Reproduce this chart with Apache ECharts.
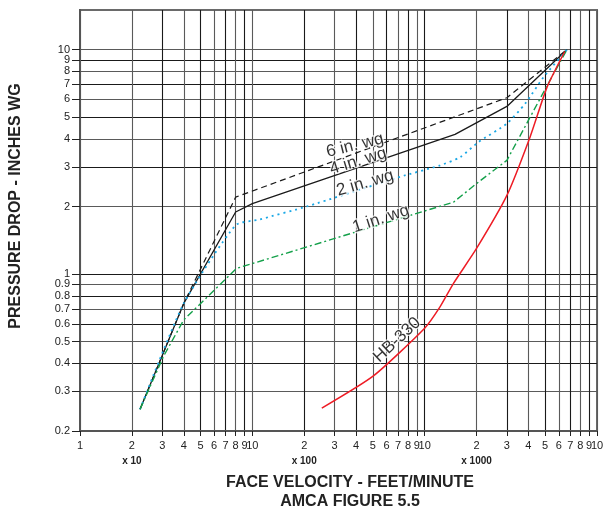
<!DOCTYPE html>
<html><head><meta charset="utf-8">
<script src="https://cdn.jsdelivr.net/npm/echarts@6/dist/echarts.min.js"></script>
<style>html,body{margin:0;padding:0;background:#fff}#c{width:607px;height:515px}</style>
</head><body><div id="c"></div>
<script>
// Tick values (log axes)
const xTicks = [10,20,30,40,50,60,70,80,90,100,200,300,400,500,600,700,800,900,1000,2000,3000,4000,5000,6000,7000,8000,9000,10000];
const yTicks = [0.2,0.3,0.4,0.5,0.6,0.7,0.8,0.9,1,2,3,4,5,6,7,8,9,10];
const xDecadeNotes = {20:'x 10', 200:'x 100', 2000:'x 1000'};

// Series data [face velocity ft/min, pressure drop in. wg]
const in6 = [[22.3,0.25],[40,0.74],[80,2.2],[3000,6.1],[6700,10]];
const in4 = [[22.3,0.25],[40,0.74],[80,1.89],[100,2.06],[1500,4.19],[3000,5.58],[6700,10]];
const in2 = [[22.3,0.25],[40,0.74],[80,1.65],[110,1.75],[207,2.0],[720,2.71],[1230,3.05],[1610,3.32],[2050,3.87],[3000,4.68],[3830,5.74],[4890,7.53],[6700,10]];
const in1 = [[22.3,0.25],[30.5,0.43],[40,0.625],[81,1.06],[1470,2.09],[2000,2.53],[3000,3.21],[5130,6.9],[6700,10]];
const hb330 = [[253,0.253],[504,0.352],[1000,0.574],[1230,0.716],[1470,0.909],[2000,1.30],[3000,2.24],[4090,4.08],[5130,6.8],[6500,9.8]];

// Curve labels anchored in data units
const labelNames = ['6 in. wg','4 in. wg','2 in. wg','1 in. wg','HB-330'];
const labelX = [394, 411, 451, 558, 692];
const labelY = [3.74, 3.18, 2.54, 1.76, 0.509];

const labelRot = [14, 17, 16, 18, 43];
const labelData = labelNames.map((n,i)=>({
  value:[labelX[i], labelY[i]], name:n,
  label:{rotate:labelRot[i]}
}));

const FONT = '"Liberation Sans", Arial, Helvetica, sans-serif';
const chart = echarts.init(document.getElementById('c'), null, {renderer:'canvas'});

function xFmt(v){
  const e = Math.floor(Math.log10(v) + 1e-9);
  const m = Math.round(v / Math.pow(10, e));
  let s;
  if (Math.abs(v - 10) < 1e-6) s = '1';
  else if (m === 1 || m === 10) s = '10';
  else s = String(m);
  const key = Math.round(v);
  if (xDecadeNotes[key]) s += '\n{s|' + xDecadeNotes[key] + '}';
  return s;
}
function yFmt(v){
  return String(Math.round(v * 10) / 10);
}

const xLastTick = xTicks[xTicks.length - 1];
const yLastTick = yTicks[yTicks.length - 1];
const xMainLabels = xTicks.slice(0, -1);
const yMainLabels = yTicks.slice(0, -1);

const gridColors = ['#1a1a1a','#5a5a5a'];
const xLabelBase = {formatter:xFmt, margin:8, fontSize:11, color:'#222', fontFamily:FONT, lineHeight:14,
  hideOverlap:false,
  rich:{s:{fontSize:10, fontWeight:'bold', fontFamily:FONT, color:'#222', lineHeight:16}}};
const yLabelBase = {formatter:yFmt, margin:10, fontSize:11, color:'#222', fontFamily:FONT, hideOverlap:false};

chart.setOption({
  animation:false,
  backgroundColor:'#fff',
  grid:{left:80, right:10, top:10, bottom:84, show:true, borderColor:'#6a6a6a', borderWidth:2, containLabel:false},
  xAxis:[{
    type:'log', logBase:10, min:10, max:10000, position:'bottom',
    axisLine:{show:true, onZero:false, lineStyle:{color:'#555', width:2}},
    axisTick:{show:true, customValues:xTicks, length:5, lineStyle:{color:'#222', width:1}},
    axisLabel:Object.assign({customValues:xMainLabels}, xLabelBase),
    splitLine:{show:true, lineStyle:{color:gridColors, width:1.1}},
    minorTick:{show:false}, minorSplitLine:{show:false}
  },{
    type:'log', logBase:10, min:10, max:10000, position:'bottom',
    axisLine:{show:false}, axisTick:{show:false}, splitLine:{show:false},
    axisLabel:Object.assign({customValues:[xLastTick]}, xLabelBase)
  }],
  yAxis:[{
    type:'log', logBase:10, min:0.2, max:15, position:'left',
    axisLine:{show:true, onZero:false, lineStyle:{color:'#555', width:2}},
    axisTick:{show:true, customValues:yTicks, length:8, lineStyle:{color:'#222', width:1}},
    axisLabel:Object.assign({customValues:yMainLabels}, yLabelBase),
    splitLine:{show:true, lineStyle:{color:gridColors, width:1.1}},
    minorTick:{show:false}, minorSplitLine:{show:false}
  },{
    type:'log', logBase:10, min:0.2, max:15, position:'left',
    axisLine:{show:false}, axisTick:{show:false}, splitLine:{show:false},
    axisLabel:Object.assign({customValues:[yLastTick]}, yLabelBase)
  }],
  series:[
    {name:'6 in. wg', type:'line', data:in6, symbol:'none', z:3,
      lineStyle:{color:'#1a1a1a', width:1.2, type:[6,4]}},
    {name:'4 in. wg', type:'line', data:in4, symbol:'none', z:3,
      lineStyle:{color:'#1a1a1a', width:1.3}},
    {name:'2 in. wg', type:'line', data:in2, symbol:'none', z:3, smooth:0.2,
      lineStyle:{color:'#1ba8e6', width:1.8, type:[2,4]}},
    {name:'1 in. wg', type:'line', data:in1, symbol:'none', z:3,
      lineStyle:{color:'#14a04a', width:1.4, type:[7,3,2,3]}},
    {name:'HB-330', type:'line', data:hb330, symbol:'none', z:3, smooth:0.2,
      lineStyle:{color:'#ee1c25', width:1.5}},
    {name:'labels', type:'scatter', data:labelData, symbolSize:0, z:10, silent:true,
      label:{show:true, position:'inside', formatter:p=>p.name, fontSize:17, color:'#000', fontFamily:FONT,
        textBorderColor:'#fff', textBorderWidth:2.5}}
  ],
  graphic:[
    {type:'text', x:16, y:206, rotation:Math.PI/2, style:{text:'PRESSURE DROP - INCHES WG', font:'bold 16px '+FONT, fill:'#222', textAlign:'center', textVerticalAlign:'middle'}},
    {type:'text', x:350, y:483, style:{text:'FACE VELOCITY - FEET/MINUTE', font:'bold 16px '+FONT, fill:'#222', textAlign:'center', textVerticalAlign:'middle'}},
    {type:'text', x:350, y:502, style:{text:'AMCA FIGURE 5.5', font:'bold 16px '+FONT, fill:'#222', textAlign:'center', textVerticalAlign:'middle'}}
  ]
});
</script></body></html>
